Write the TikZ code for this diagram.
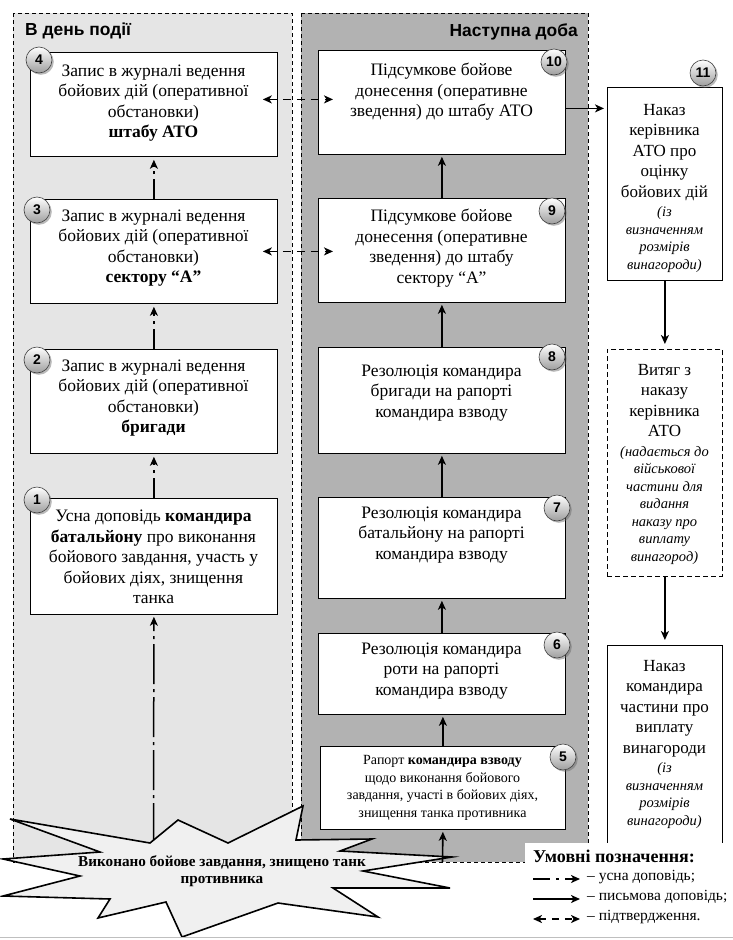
\documentclass[tikz,border=0pt]{standalone}
\usepackage{fontspec}
\setmainfont{Liberation Serif}
\newfontfamily\hsans{Liberation Sans}
\usetikzlibrary{arrows.meta,shadows,calc}
\newcommand\smit{\itshape\fontsize{14.5}{17.5}\selectfont}
\tikzset{
  panel/.style={draw, line width=0.7pt, dash pattern=on 4pt off 3pt},
  box/.style={draw, line width=0.8pt, fill=white, anchor=north west, inner sep=0pt},
  dbox/.style={box, dash pattern=on 5pt off 3pt},
  txt/.style={align=center, inner sep=0pt, font=\fontsize{17.5}{20.5}\selectfont},
  stxt/.style={align=center, inner sep=0pt, font=\fontsize{14}{17.5}\selectfont},
  rtxt/.style={align=center, inner sep=0pt, font=\fontsize{17}{20.5}\selectfont},
  num/.style={circle, draw=black!75, line width=0.6pt, minimum size=26pt, inner sep=0pt,
    top color=white, bottom color=black!38,
    font=\hsans\bfseries\fontsize{14}{14}\selectfont,
    drop shadow={shadow xshift=1.8pt, shadow yshift=-1.8pt, opacity=0.45, fill=black!60}},
  tip/.style={-{Stealth[length=9pt,width=8pt,inset=2.5pt]}},
  oral/.style={tip, line width=1.5pt, dash pattern=on 20pt off 5pt on 3pt off 5pt},
  written/.style={tip, line width=1.6pt},
  confirm/.style={{Stealth[length=9pt,width=8pt,inset=2.5pt]}-{Stealth[length=9pt,width=8pt,inset=2.5pt]}, line width=1.6pt, dash pattern=on 8pt off 6pt},
  head/.style={font=\hsans\bfseries\fontsize{17.4}{19}\selectfont, inner sep=0pt},
  burst/.style={draw, line width=1.6pt, fill=black!6, line join=miter},
  leg/.style={anchor=west, inner sep=0pt, font=\fontsize{15.5}{17}\selectfont},
}
\begin{document}
\begin{tikzpicture}[x=1pt,y=-1pt]
\useasboundingbox (0,0) rectangle (733,940);
\fill[white] (0,0) rectangle (733,940);

% panels
\draw[panel, fill=black!10] (13,13) rectangle (292,862);
\draw[panel, fill=black!30] (301,13) rectangle (588,862);
\node[head, anchor=base west] (h1) at (25,35) {В день події};
\node[head, anchor=base east] (h2) at (578,36) {Наступна доба};

% left column boxes
\node[box, minimum width=247pt, minimum height=104pt] (b4) at (30,52) {};
\node[box, minimum width=247pt, minimum height=104pt] (b3) at (30,199) {};
\node[box, minimum width=247pt, minimum height=104pt] (b2) at (30,349) {};
\node[box, minimum width=247pt, minimum height=116pt] (b1) at (30,498) {};

\node[txt] (t4) at (153.5,103) {Запис в журналі ведення\\бойових дій (оперативної\\обстановки)\\\textbf{штабу АТО}};
\node[txt] (t3) at (153.5,248) {Запис в журналі ведення\\бойових дій (оперативної\\обстановки)\\\textbf{сектору “А”}};
\node[txt] (t2) at (153.5,398) {Запис в журналі ведення\\бойових дій (оперативної\\обстановки)\\\textbf{бригади}};
\node[txt] (t1) at (153.5,557) {Усна доповідь \textbf{командира}\\\textbf{батальйону} про виконання\\бойового завдання, участь у\\бойових діях, знищення\\танка};

% right column boxes
\node[box, minimum width=247pt, minimum height=104pt] (b10) at (318,50) {};
\node[box, minimum width=247pt, minimum height=104pt] (b9) at (318,198) {};
\node[box, minimum width=247pt, minimum height=106pt] (b8) at (318,347) {};
\node[box, minimum width=247pt, minimum height=101pt] (b7) at (318,497) {};
\node[box, minimum width=247pt, minimum height=81pt] (b6) at (318,633) {};
\node[box, minimum width=245pt, minimum height=83pt] (b5) at (320,746) {};

\node[txt] (t10) at (441.5,92) {Підсумкове бойове\\донесення (оперативне\\зведення) до штабу АТО};
\node[txt] (t9) at (441.5,248) {Підсумкове бойове\\донесення (оперативне\\зведення) до штабу\\сектору “А”};
\node[txt] (t8) at (441.5,393) {Резолюція командира\\бригади на рапорті\\командира взводу};
\node[txt] (t7) at (441.5,535) {Резолюція командира\\батальйону на рапорті\\командира взводу};
\node[txt] (t6) at (441.5,671) {Резолюція командира\\роти на рапорті\\командира взводу};
\node[stxt] (t5) at (442.5,788) {Рапорт \textbf{командира взводу}\\щодо виконання бойового\\завдання, участі в бойових діях,\\знищення танка противника};

% far right column
\node[box, minimum width=115pt, minimum height=193pt] (b11) at (607,87) {};
\node[dbox, minimum width=115pt, minimum height=227pt] (b12) at (607,349) {};
\node[box, minimum width=115pt, minimum height=212pt] (b13) at (607,645) {};

\node[rtxt] (t11) at (664.5,188) {Наказ\\керівника\\АТО про\\оцінку\\бойових дій\\[-1pt]\smit (із\\[-3pt]\smit визначенням\\[-3pt]\smit розмірів\\[-3pt]\smit винагороди)};
\node[rtxt] (t12) at (664.5,464) {Витяг з\\наказу\\керівника\\АТО\\[-1pt]\smit (надається до\\[-3pt]\smit військової\\[-3pt]\smit частини для\\[-3pt]\smit видання\\[-3pt]\smit наказу про\\[-3pt]\smit виплату\\[-3pt]\smit винагород)};
\node[rtxt] (t13) at (664.5,744) {Наказ\\командира\\частини про\\виплату\\винагороди\\[-1pt]\smit (із\\[-3pt]\smit визначенням\\[-3pt]\smit розмірів\\[-3pt]\smit винагороди)};

% number circles
\node[num] (n4) at (39,60) {4};
\node[num] (n3) at (37,210) {3};
\node[num] (n2) at (37,360) {2};
\node[num] (n1) at (37,500) {1};
\node[num] (n10) at (554,62) {10};
\node[num] (n9) at (552,211) {9};
\node[num] (n8) at (552,357) {8};
\node[num] (n7) at (557,508) {7};
\node[num] (n6) at (557,645) {6};
\node[num] (n5) at (563,757) {5};
\node[num] (n11) at (703,73) {11};

% connectors: oral
\draw[oral, shorten >=3pt] (b1.north) -- (b2.south);
\draw[oral, shorten >=3pt] (b2.north) -- (b3.south);
\draw[oral, shorten >=3pt] (b3.north) -- (b4.south);

% written, right column
\draw[written, shorten >=2pt] (b5.north) -- (b5.north |- b6.south);
\draw[written, shorten >=2pt] (b6.north) -- (b7.south);
\draw[written, shorten >=2pt] (b7.north) -- (b8.south);
\draw[written, shorten >=2pt] (b8.north) -- (b9.south);
\draw[written, shorten >=2pt] (b9.north) -- (b10.south);
\draw[written, shorten >=3pt] ([yshift=-6pt]b10.east) -- ([yshift=-6pt]b10.east -| b11.west);
\draw[written, shorten >=5pt] (b11.south) -- (b12.north);
\draw[written, shorten >=5pt] (b12.south) -- (b13.north);

% confirmations
\draw[confirm] ($(b4.east)+(-15,-5)$) -- ($(b4.east -| b10.west)+(15,-5)$);
\draw[confirm] ($(b3.east)+(-15,0)$) -- ($(b3.east -| b9.west)+(15,0)$);

% burst
\coordinate (s1) at (153.5,843);
\coordinate (s5) at (442.5,862);
\draw[oral, shorten >=2pt, dash pattern=on 40pt off 5pt on 3pt off 5pt] (s1) -- (b1.south);
\draw[written, shorten >=2pt] (s5) -- (b5.south);
\draw[burst] (10,819) -- (150,843) -- (178,820) -- (228,843) -- (303,806) -- (296,840)
  -- (372,839) -- (340,851) -- (452,857) -- (363,871) -- (450,888) -- (333,888)
  -- (378,917) -- (278,903) -- (182,937) -- (166,902) -- (98,918) -- (110,899)
  -- (3,896) -- (80,876) -- (3,859) -- (100,852) -- cycle;
\node[align=center, inner sep=0pt, font=\bfseries\fontsize{15.2}{17.5}\selectfont] (st) at (222,871)
  {Виконано бойове завдання, знищено танк\\противника};

% legend
\fill[white] (525,843) rectangle (733,940);
\node[anchor=west, inner sep=0pt, font=\bfseries\fontsize{18}{19}\selectfont] (lt) at (533,856) {Умовні позначення:};
\coordinate (l1a) at (533,879); \coordinate (l1b) at (580,879);
\coordinate (l2a) at (533,899); \coordinate (l2b) at (580,899);
\coordinate (l3a) at (533,919); \coordinate (l3b) at (580,919);
\draw[tip, line width=1.5pt, dash pattern=on 17pt off 6pt on 3pt off 6pt] (l1a) -- (l1b);
\draw[written] (l2a) -- (l2b);
\draw[confirm, dash pattern=on 7pt off 6pt] (l3a) -- (l3b);
\node[leg] (lg1) at (587,877) {– усна доповідь;};
\node[leg] (lg2) at (587,897) {– письмова доповідь;};
\node[leg] (lg3) at (587,917) {– підтвердження.};
\draw[black!25, line width=1pt] (0,937) -- (733,937);
\end{tikzpicture}
\end{document}
